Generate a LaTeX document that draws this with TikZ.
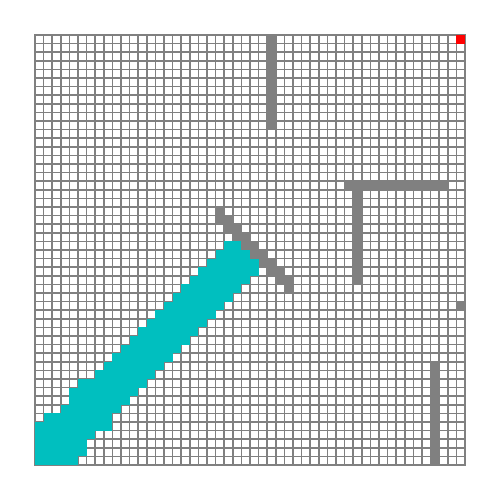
\documentclass[tikz,border=0pt]{standalone}
\usepackage{xcolor}
\usepackage{tikz}
\definecolor{wallgray}{RGB}{128,128,128}
\definecolor{pathteal}{RGB}{0,191,191}
\definecolor{goalred}{RGB}{255,0,0}

\begin{document}
\begin{tikzpicture}[x=0.5cm,y=-0.5cm,
  gridline/.style={draw=wallgray,line width=2.6pt,line cap=rect},
  wall/.style={fill=wallgray},
  trail/.style={fill=pathteal},
  goal/.style={fill=goalred}]
  \useasboundingbox[fill=white] (-4.07,-4.07) rectangle (54.07,54.07);
  \foreach \i in {0,...,50}{
    \draw[gridline] (\i,0) -- (\i,50);
    \draw[gridline] (0,\i) -- (50,\i);
  }
  \foreach \r/\a/\b in {24/22/23,25/21/24,26/20/25,27/19/25,28/18/24,
      29/17/23,30/16/22,31/15/21,32/14/20,33/13/19,34/12/18,35/11/17,
      36/10/16,37/9/15,38/8/14,39/7/13,40/5/12,41/4/11,42/4/10,43/3/9,
      44/1/8,45/0/8,46/0/6,47/0/5,48/0/5,49/0/4}
    \fill[trail] (\a,\r) rectangle ({\b+1},{\r+1});
  \fill[wall] (27,0) rectangle (28,11);
  \fill[wall] (36,17) rectangle (48,18);
  \fill[wall] (37,17) rectangle (38,29);
  \fill[wall] (46,38) rectangle (47,50);
  \fill[wall] (49,31) rectangle (50,32);
  \foreach \r in {21,...,29}
    \fill[wall] (\r,\r) rectangle +(1,1);
  \foreach \r in {20,...,28}
    \fill[wall] ({\r+1},\r) rectangle +(1,1);
  \fill[goal] (49,0) rectangle (50,1);
\end{tikzpicture}
\end{document}
